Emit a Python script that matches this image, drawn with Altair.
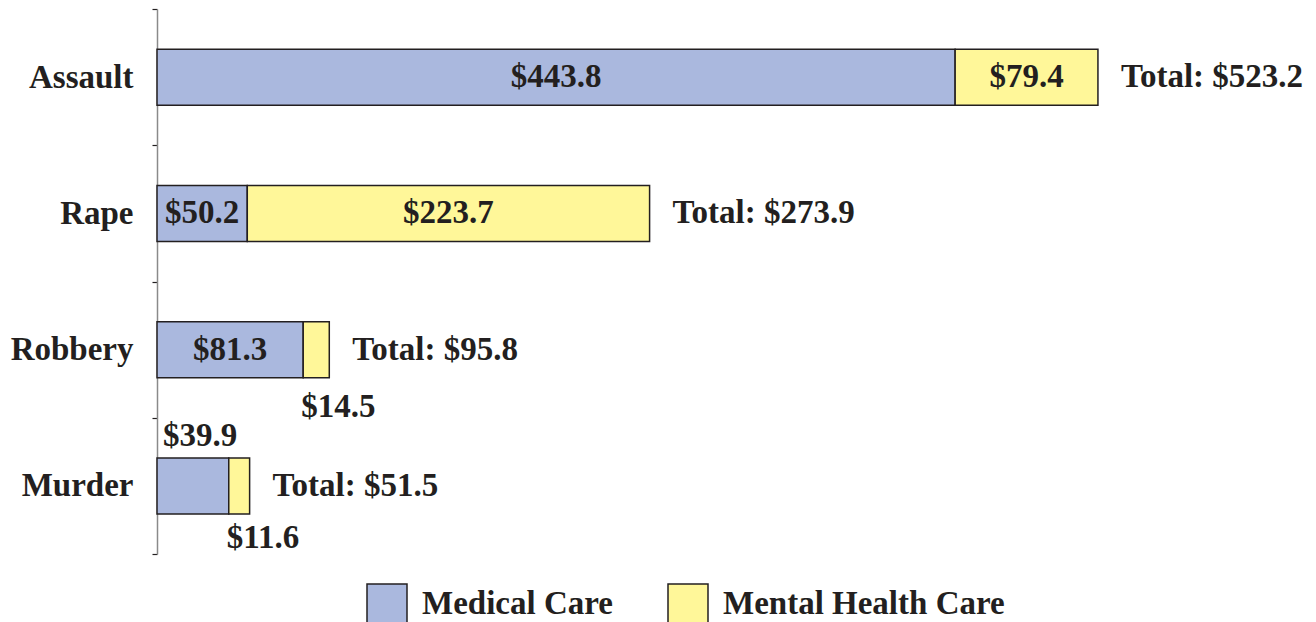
import altair as alt
import pandas as pd

crimes = ["Assault", "Rape", "Robbery", "Murder"]
medical = [443.8, 50.2, 81.3, 39.9]
mental = [79.4, 223.7, 14.5, 11.6]
types = ["Medical Care", "Mental Health Care"]
colors = ["#aab8de", "#fff799"]

rows = []
for c, m, h in zip(crimes, medical, mental):
    rows.append({"crime": c, "type": types[0], "value": m, "ord": 0})
    rows.append({"crime": c, "type": types[1], "value": h, "ord": 1})
df = pd.DataFrame(rows)

FONT = "Liberation Serif"
INK = "#231f20"
FS = 33

y = alt.Y(
    "crime:N", sort=crimes, title=None,
    scale=alt.Scale(paddingInner=0, paddingOuter=0),
    axis=alt.Axis(domainColor="#8a8a8a", domainWidth=1.5, ticks=True, tickColor=INK,
                  tickSize=5, tickWidth=1.2, tickBand="extent", labelFont=FONT,
                  labelFontSize=FS, labelFontWeight="bold", labelColor=INK,
                  labelPadding=19, grid=False),
)
xscale = alt.Scale(domain=[0, 640], nice=False, zero=True)

base = (
    alt.Chart(df)
    .transform_stack(stack="value", as_=["x0", "x1"], groupby=["crime"],
                     sort=[alt.SortField("ord")])
    .transform_calculate(mid="(datum.x0 + datum.x1) / 2")
    .transform_joinaggregate(total="sum(value)", groupby=["crime"])
    .transform_calculate(label="'$' + format(datum.value, '.1f')",
                         tlabel="'Total: $' + format(datum.total, '.1f')")
)

bars = base.mark_bar(stroke=INK, strokeWidth=1.5, opacity=1, height=56).encode(
    x=alt.X("x0:Q", scale=xscale, axis=None, title=None),
    x2="x1:Q",
    y=y,
    color=alt.Color(
        "type:N",
        scale=alt.Scale(domain=types, range=colors),
        legend=alt.Legend(orient="none", legendX=209, legendY=574, direction="horizontal",
                          title=None, symbolType="square", symbolSize=1600,
                          symbolStrokeColor=INK, symbolStrokeWidth=1.5, symbolOpacity=1,
                          labelFont=FONT, labelFontSize=FS, labelFontWeight="bold",
                          labelColor=INK, labelOffset=14, columnPadding=52, padding=0,
                          labelLimit=500),
    ),
)

tkw = dict(font=FONT, fontSize=FS, fontWeight="bold", color=INK, baseline="middle")

inside = base.transform_filter(
    "datum.crime == 'Assault' || datum.crime == 'Rape' || (datum.crime == 'Robbery' && datum.ord == 0)"
).mark_text(align="center", **tkw).encode(x=alt.X("mid:Q", scale=xscale, axis=None), y=y, text="label:N")

below_rob = base.transform_filter("datum.crime == 'Robbery' && datum.ord == 1").mark_text(
    align="left", dx=-2, dy=57, **tkw).encode(x=alt.X("x0:Q", scale=xscale, axis=None), y=y, text="label:N")

below_mur = base.transform_filter("datum.crime == 'Murder' && datum.ord == 1").mark_text(
    align="left", dx=-2, dy=52, **tkw).encode(x=alt.X("x0:Q", scale=xscale, axis=None), y=y, text="label:N")

above_mur = base.transform_filter("datum.crime == 'Murder' && datum.ord == 0").mark_text(
    align="left", dx=6, dy=-50, **tkw).encode(x=alt.X("x0:Q", scale=xscale, axis=None), y=y, text="label:N")

totals = base.transform_filter("datum.ord == 1").mark_text(
    align="left", dx=23, **tkw).encode(x=alt.X("x1:Q", scale=xscale, axis=None), y=y, text="tlabel:N")

chart = (
    alt.layer(bars, inside, below_rob, below_mur, above_mur, totals)
    .properties(width=1151, height=545, autosize=alt.AutoSizeParams(type="none"),
                padding={"left": 157, "top": 9, "right": 8, "bottom": 68},
                background="white")
    .configure_view(strokeWidth=0, stroke="transparent")
)

chart.save("out.html", embed_options={"renderer": "svg", "actions": False})
